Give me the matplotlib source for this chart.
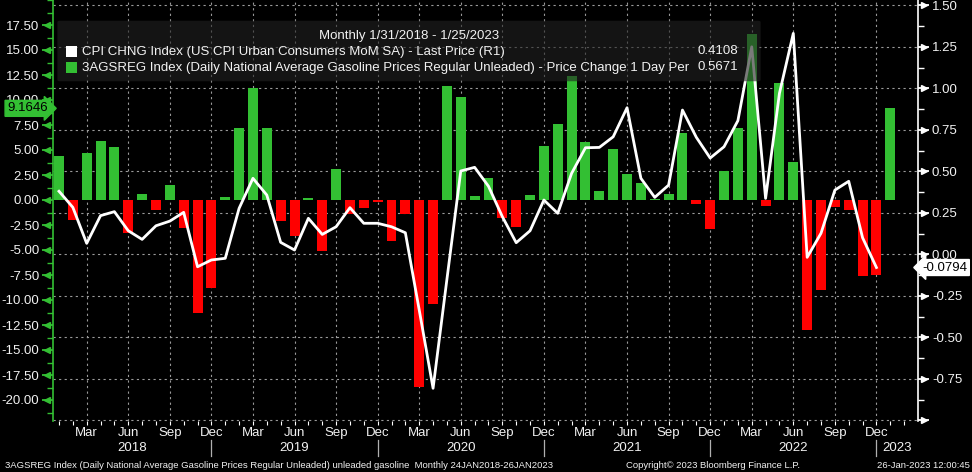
import numpy as np
import matplotlib
matplotlib.use('Agg')
import matplotlib.pyplot as plt
import matplotlib.transforms as mtransforms
from matplotlib.patches import FancyBboxPatch, Rectangle
from matplotlib.ticker import MultipleLocator, FixedLocator

plt.rcParams['font.family'] = ['Liberation Sans', 'DejaVu Sans']
plt.rcParams['axes.unicode_minus'] = False

# gasoline price change, Jan 2018 .. Jan 2023 (left axis)
gas_chg = [4.43, -1.97, 4.7, 5.9, 5.33, -3.33, 0.6, -1.0, 1.5, -2.75, -11.27, -8.77,
           0.3, 7.2, 11.2, 7.2, -2.1, -3.57, 0.17, -5.07, 3.1, -1.43, -0.77, -0.17,
           -4.1, -1.4, -18.67, -10.37, 11.4, 10.3, 0.4, 2.2, -1.77, -2.67, 0.5, 5.4,
           7.6, 12.4, 5.8, 0.9, 5.1, 2.6, 1.7, 0.07, 0.6, 6.7, -0.4, -2.9,
           2.9, 7.2, 16.6, -0.57, 11.7, 3.8, -12.97, -8.97, -0.67, -0.97, -7.57, -7.47,
           9.1646]

# CPI MoM SA, Jan 2018 .. Dec 2022 (right axis)
cpi_mom = [0.38, 0.283, 0.066, 0.233, 0.257, 0.142, 0.09, 0.172, 0.2, 0.253, -0.075, -0.034,
           -0.024, 0.277, 0.458, 0.357, 0.072, 0.026, 0.217, 0.12, 0.166, 0.281, 0.187, 0.187,
           0.166, 0.13, -0.335, -0.807, -0.15, 0.502, 0.524, 0.41, 0.227, 0.07, 0.142, 0.327,
           0.247, 0.488, 0.642, 0.644, 0.708, 0.883, 0.458, 0.343, 0.417, 0.869, 0.705, 0.58,
           0.648, 0.805, 1.25, 0.337, 0.97, 1.331, -0.018, 0.127, 0.387, 0.44, 0.1, -0.0794]

month_names = ['Jan', 'Feb', 'Mar', 'Apr', 'May', 'Jun',
               'Jul', 'Aug', 'Sep', 'Oct', 'Nov', 'Dec']
years = [2018, 2019, 2020, 2021, 2022, 2023]
start_year = 2018

cpi_last = 0.4108
gas_last = 0.5671

GREEN = '#33bf33'
RED = '#ff0000'
TXT = '#f2f2f2'
GRID = '#9a9a9a'

W, H = 972, 472
fig = plt.figure(figsize=(W / 100, H / 100), dpi=100, facecolor='black')
ax_l, ax_r, ax_t, ax_b = 53.3, 918, 0, 421
ax = fig.add_axes([ax_l / W, 1 - ax_b / H, (ax_r - ax_l) / W, (ax_b - ax_t) / H])
ax.set_facecolor('black')
ax2 = ax.twinx()

x_bar = np.arange(len(gas_chg))
x_cpi = np.arange(len(cpi_mom))

ax.set_xlim(-0.41, 62.0)
ax.set_ylim(-22.1, 20)
ax2.set_ylim(-1.004, 1.532)

# bars
colors = [GREEN if v >= 0 else RED for v in gas_chg]
ax.bar(x_bar, gas_chg, width=0.72, color=colors, zorder=2)

# grid: vertical on quarter months, horizontal on right-axis ticks
q_ticks = [i for i in range(len(gas_chg) + 2) if i % 3 == 2]
r_ticks = np.arange(-1.0, 1.51, 0.25)
l_ticks = np.arange(-20, 17.6, 2.5)
for x in q_ticks:
    ax.axvline(x, color=GRID, lw=0.8, ls=(0, (2, 3)), zorder=0.5)
for v in r_ticks:
    ax.plot([0, 1], [v, v], transform=ax2.get_yaxis_transform(), color=GRID,
            lw=0.8, ls=(0, (2, 3)), zorder=0.5, clip_on=False)

# CPI line
ax2.plot(x_cpi, cpi_mom, color='white', lw=2.0, zorder=3)

# left axis
for s in ['top', 'right', 'bottom']:
    ax.spines[s].set_visible(False)
ax.spines['left'].set_color(GREEN)
ax.spines['left'].set_linewidth(1.2)
ax.set_yticks(l_ticks)
ax.set_yticklabels([f'{v:.2f}' for v in l_ticks])
ax.yaxis.set_minor_locator(MultipleLocator(1.25))
ax.tick_params(axis='y', which='major', colors=GREEN, length=8, width=1.3,
               labelcolor=TXT, labelsize=9.5, pad=2)
ax.tick_params(axis='y', which='minor', colors=GREEN, length=4, width=1.0)
# arrow heads on major ticks
tr_l = mtransforms.offset_copy(ax.get_yaxis_transform(), fig=fig, x=-6, units='dots')
ax.plot(np.zeros(len(l_ticks)), l_ticks, transform=tr_l, ls='none', marker='<',
        ms=4.5, color=GREEN, mec=GREEN, clip_on=False, zorder=5)

# right axis
for s in ['top', 'left', 'bottom']:
    ax2.spines[s].set_visible(False)
ax2.spines['right'].set_color('white')
ax2.spines['right'].set_linewidth(1.2)
ax2.set_yticks(r_ticks)
ax2.set_yticklabels(['' if v < -0.9 else f'{v:.2f}' for v in r_ticks])
ax2.yaxis.set_minor_locator(FixedLocator(r_ticks[:-1] + 0.125))
ax2.tick_params(axis='y', which='major', colors='white', length=8, width=1.3,
                labelcolor=TXT, labelsize=9.5, pad=2)
ax2.tick_params(axis='y', which='minor', colors='white', length=4, width=1.0)
tr_r = mtransforms.offset_copy(ax2.get_yaxis_transform(), fig=fig, x=6, units='dots')
ax2.plot(np.ones(len(r_ticks)), r_ticks, transform=tr_r, ls='none', marker='>',
         ms=4.5, color='white', mec='white', clip_on=False, zorder=5)

# x axis: months and years
q_lab = [i for i in q_ticks if i < 62]
ax.set_xticks(q_lab)
ax.set_xticklabels([month_names[i % 12] for i in q_lab])
ax.xaxis.set_minor_locator(FixedLocator(np.arange(0, 62)))
ax.tick_params(axis='x', which='both', colors='white', length=3, width=0.8,
               labelcolor=TXT, labelsize=9.5, pad=1.5)

seps = [12 * k + 11 for k in range(len(years) - 1)]
xmin, xmax = ax.get_xlim()
bounds = [xmin] + seps + [xmax]
for k, yr in enumerate(years):
    xc = (bounds[k] + bounds[k + 1]) / 2
    ax.text(xc, -0.064, str(yr), transform=ax.get_xaxis_transform(),
            ha='center', va='center', color=TXT, fontsize=9.5)
for s in seps:
    ax.plot([s, s], [-0.045, -0.083], transform=ax.get_xaxis_transform(),
            color='#b0b0b0', lw=0.9, clip_on=False)

# legend box
px = lambda x: (x - ax_l) / (ax_r - ax_l)
py = lambda y: 1 - (y - ax_t) / (ax_b - ax_t)
box = FancyBboxPatch((px(60), py(80)), px(758) - px(60), py(22) - py(80),
                     boxstyle='round,pad=0.003', transform=ax2.transAxes,
                     fc='#222222', ec='none', alpha=0.6, zorder=10)
ax2.add_patch(box)
ax2.text(px(409), py(36), f'Monthly 1/31/{start_year} - 1/25/2023', transform=ax2.transAxes,
         ha='center', va='center', color=TXT, fontsize=9.5, zorder=11)
rows = [('white', 'CPI CHNG Index (US CPI Urban Consumers MoM SA) - Last Price (R1)', cpi_last, 51.5),
        (GREEN, '3AGSREG Index (Daily National Average Gasoline Prices Regular Unleaded) - Price Change 1 Day Per', gas_last, 67.5)]
for col, label, val, yy in rows:
    ax2.add_patch(Rectangle((px(66), py(yy + 5.5)), px(77) - px(66), py(yy - 5.5) - py(yy + 5.5),
                            transform=ax2.transAxes, fc=col, ec='none', zorder=11))
    ax2.text(px(82), py(yy), label, transform=ax2.transAxes, ha='left', va='center',
             color=TXT, fontsize=9.5, zorder=11)
    ax2.text(px(738), py(yy), f'{val:.4f}', transform=ax2.transAxes, ha='right', va='center',
             color=TXT, fontsize=9.5, zorder=11)

# last value tags
ax.text(-0.0065, gas_chg[-1], f'{gas_chg[-1]:.4f}', transform=ax.get_yaxis_transform(),
        ha='right', va='center', color='black', fontsize=9.5, zorder=12, clip_on=False,
        bbox=dict(boxstyle='rarrow,pad=0.15', fc=GREEN, ec=GREEN))
ax2.text(1.005, cpi_mom[-1], f'{cpi_mom[-1]:.4f}', transform=ax2.get_yaxis_transform(),
         ha='left', va='center', color='black', fontsize=9.5, zorder=12, clip_on=False,
         bbox=dict(boxstyle='larrow,pad=0.15', fc='white', ec='white'))

# footer
fig.text(5 / W, 1 - 465 / H,
         '3AGSREG Index (Daily National Average Gasoline Prices Regular Unleaded) unleaded gasoline  Monthly 24JAN2018-26JAN2023',
         ha='left', va='center', color=TXT, fontsize=6.8)
fig.text(713 / W, 1 - 465 / H, 'Copyright\u00a9 2023 Bloomberg Finance L.P.',
         ha='center', va='center', color=TXT, fontsize=6.8)
fig.text(877 / W, 1 - 465 / H, '26-Jan-2023 12:00:45',
         ha='left', va='center', color=TXT, fontsize=6.8)

fig.savefig('out.png', dpi=100, facecolor='black')
